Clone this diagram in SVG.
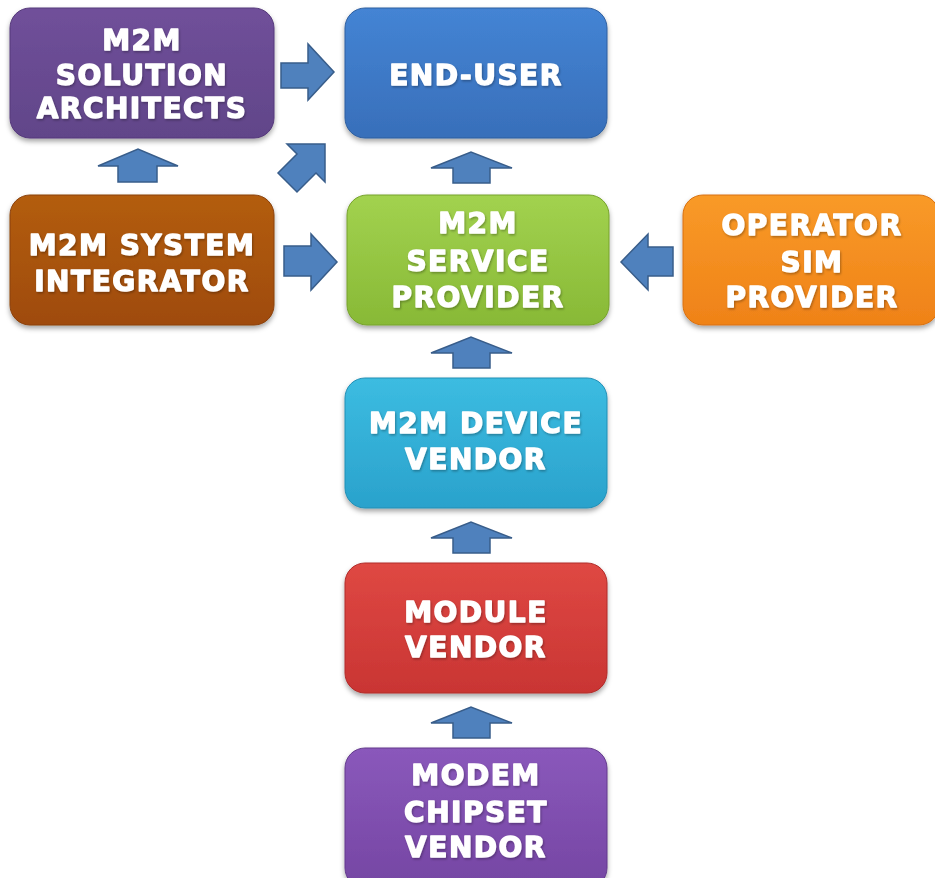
<svg xmlns="http://www.w3.org/2000/svg" width="935" height="878" viewBox="0 0 935 878">
  <defs>
    <filter id="boxShadow" x="-10%" y="-10%" width="120%" height="130%">
      <feDropShadow dx="0" dy="3" stdDeviation="2.5" flood-color="#000" flood-opacity="0.35"/>
    </filter>
    <filter id="txtShadow" x="-5%" y="-20%" width="110%" height="140%">
      <feDropShadow dx="1" dy="1.5" stdDeviation="1" flood-color="#000" flood-opacity="0.3"/>
    </filter>
    <linearGradient id="gPurple" x1="0" y1="0" x2="0" y2="1">
      <stop offset="0" stop-color="#70509a"/>
      <stop offset="1" stop-color="#614589"/>
    </linearGradient>
    <linearGradient id="gBlue" x1="0" y1="0" x2="0" y2="1">
      <stop offset="0" stop-color="#4484d4"/>
      <stop offset="1" stop-color="#386fba"/>
    </linearGradient>
    <linearGradient id="gBrown" x1="0" y1="0" x2="0" y2="1">
      <stop offset="0" stop-color="#b35d0f"/>
      <stop offset="1" stop-color="#9f4b0a"/>
    </linearGradient>
    <linearGradient id="gGreen" x1="0" y1="0" x2="0" y2="1">
      <stop offset="0" stop-color="#a2d24f"/>
      <stop offset="1" stop-color="#88b936"/>
    </linearGradient>
    <linearGradient id="gOrange" x1="0" y1="0" x2="0" y2="1">
      <stop offset="0" stop-color="#f99a28"/>
      <stop offset="1" stop-color="#ef8218"/>
    </linearGradient>
    <linearGradient id="gCyan" x1="0" y1="0" x2="0" y2="1">
      <stop offset="0" stop-color="#3cbce1"/>
      <stop offset="1" stop-color="#2aa2cc"/>
    </linearGradient>
    <linearGradient id="gRed" x1="0" y1="0" x2="0" y2="1">
      <stop offset="0" stop-color="#df4843"/>
      <stop offset="1" stop-color="#c93533"/>
    </linearGradient>
    <linearGradient id="gViolet" x1="0" y1="0" x2="0" y2="1">
      <stop offset="0" stop-color="#8a58bb"/>
      <stop offset="1" stop-color="#7546a3"/>
    </linearGradient>
  </defs>
  <style>
    .box { stroke-width: 1; filter: url(#boxShadow); }
    .lbl { font-family: "DejaVu Sans", "Liberation Sans", sans-serif; font-weight: bold; font-size: 28px; letter-spacing: 1.5px; fill: #ffffff; stroke: #ffffff; stroke-width: 1.3px; stroke-linejoin: round; text-anchor: middle; filter: url(#txtShadow); }
    .arrow { fill: #4f81bd; stroke: #385d8a; stroke-width: 1.5; stroke-linejoin: miter; }
  </style>

  <rect width="935" height="878" fill="#ffffff"/>

  <!-- connectors: block arrows -->
  <g id="connectors">
    <!-- architects -> end-user -->
    <polygon class="arrow" points="281,63 308,63 308,44 334,72 308,100 308,88 281,88"/>
    <!-- integrator -> architects -->
    <polygon class="arrow" points="118,182 118,166 98,166 138,149 178,166 157,166 157,182"/>
    <!-- integrator -> end-user (diagonal) -->
    <polygon class="arrow" points="325,144 287,144 297,154 278,173 297,192 316,173 325,182"/>
    <!-- service provider -> end-user -->
    <polygon class="arrow" points="453,183 453,168 431,168 471,152 512,168 490,168 490,183"/>
    <!-- integrator -> service provider -->
    <polygon class="arrow" points="284,246 311,246 311,234 337,262 311,290 311,276 284,276"/>
    <!-- operator -> service provider -->
    <polygon class="arrow" points="673,247 648,247 648,234 621,262 648,290 648,276 673,276"/>
    <!-- device vendor -> service provider -->
    <polygon class="arrow" points="453,368 453,353 431,353 471,337 512,353 490,353 490,368"/>
    <!-- module vendor -> device vendor -->
    <polygon class="arrow" points="453,553 453,538 431,538 471,522 512,538 490,538 490,553"/>
    <!-- chipset vendor -> module vendor -->
    <polygon class="arrow" points="453,738 453,723 431,723 471,707 512,723 490,723 490,738"/>
  </g>

  <g id="solution-architects">
    <rect class="box" x="10" y="8" width="264" height="130" rx="20" fill="url(#gPurple)" stroke="#55397a"/>
    <text class="lbl" x="142" y="50">M2M</text>
    <text class="lbl" x="142" y="85">SOLUTION</text>
    <text class="lbl" x="142" y="118">ARCHITECTS</text>
  </g>

  <g id="end-user">
    <rect class="box" x="345" y="8" width="262" height="130" rx="20" fill="url(#gBlue)" stroke="#2f5f9f"/>
    <text class="lbl" x="476" y="85">END-USER</text>
  </g>

  <g id="system-integrator">
    <rect class="box" x="10" y="195" width="264" height="130" rx="20" fill="url(#gBrown)" stroke="#8a4008"/>
    <text class="lbl" x="142" y="255">M2M SYSTEM</text>
    <text class="lbl" x="142" y="291">INTEGRATOR</text>
  </g>

  <g id="service-provider">
    <rect class="box" x="347" y="195" width="262" height="130" rx="20" fill="url(#gGreen)" stroke="#76a22c"/>
    <text class="lbl" x="478" y="233">M2M</text>
    <text class="lbl" x="478" y="271">SERVICE</text>
    <text class="lbl" x="478" y="307">PROVIDER</text>
  </g>

  <g id="operator-sim-provider">
    <rect class="box" x="683" y="195" width="256" height="130" rx="20" fill="url(#gOrange)" stroke="#d87010"/>
    <text class="lbl" x="812" y="235">OPERATOR</text>
    <text class="lbl" x="812" y="272">SIM</text>
    <text class="lbl" x="812" y="307">PROVIDER</text>
  </g>

  <g id="device-vendor">
    <rect class="box" x="345" y="378" width="262" height="130" rx="20" fill="url(#gCyan)" stroke="#238fb5"/>
    <text class="lbl" x="476" y="433">M2M DEVICE</text>
    <text class="lbl" x="476" y="469">VENDOR</text>
  </g>

  <g id="module-vendor">
    <rect class="box" x="345" y="563" width="262" height="130" rx="20" fill="url(#gRed)" stroke="#b02c2a"/>
    <text class="lbl" x="476" y="622">MODULE</text>
    <text class="lbl" x="476" y="657">VENDOR</text>
  </g>

  <g id="chipset-vendor">
    <rect class="box" x="345" y="748" width="262" height="140" rx="20" fill="url(#gViolet)" stroke="#633b8c"/>
    <text class="lbl" x="476" y="785">MODEM</text>
    <text class="lbl" x="476" y="822">CHIPSET</text>
    <text class="lbl" x="476" y="857">VENDOR</text>
  </g>
</svg>
